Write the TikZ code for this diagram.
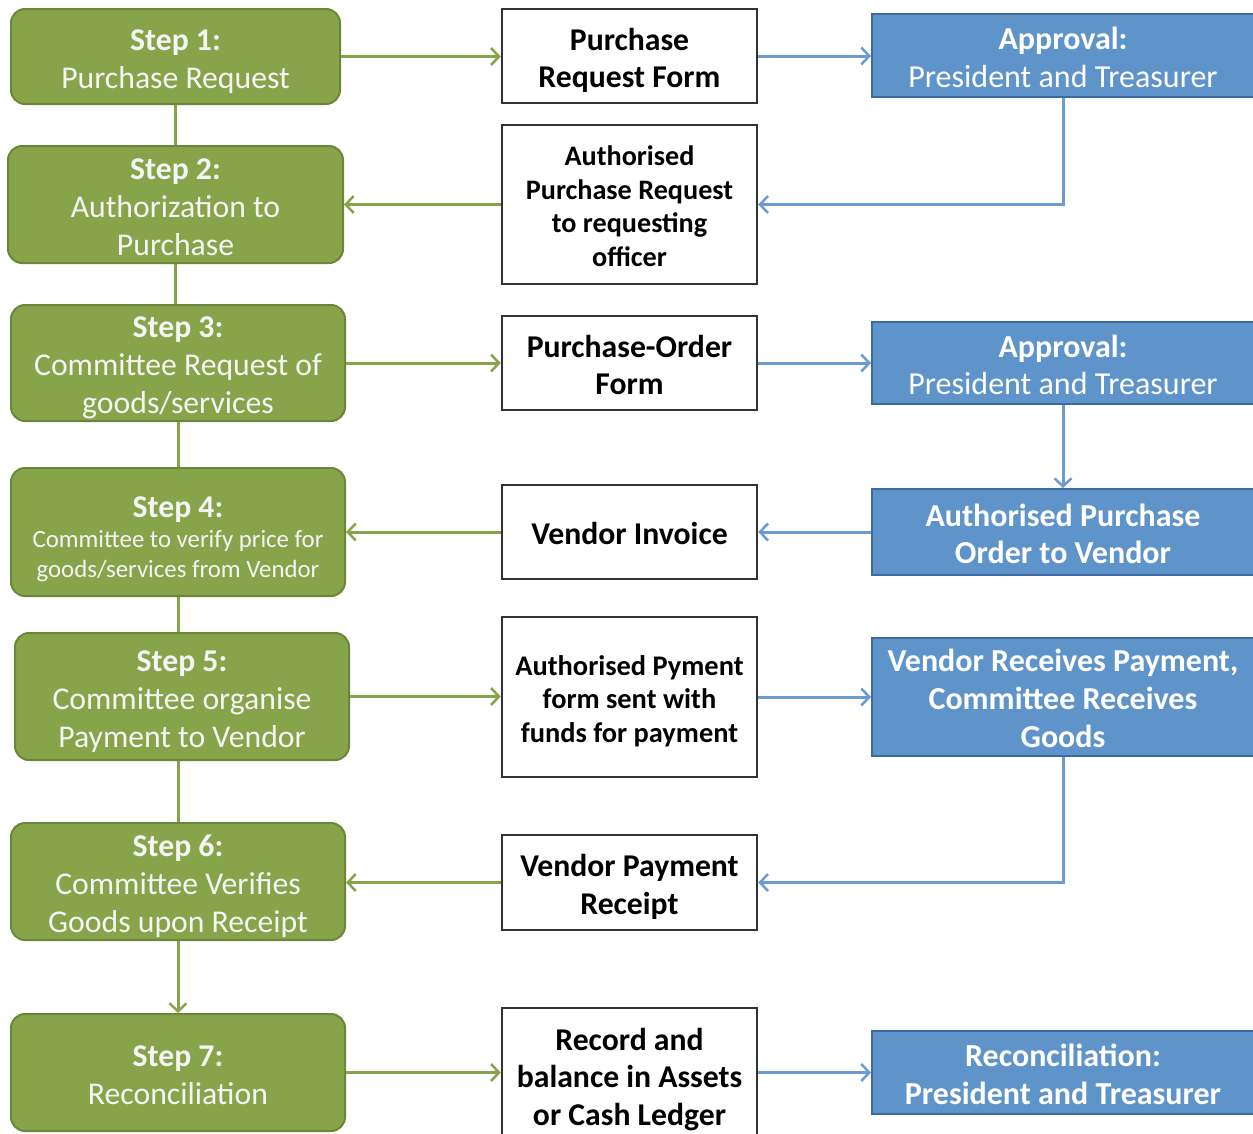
\documentclass[tikz,border=0pt]{standalone}
\usepackage{fontspec}
\setmainfont{Carlito}
\usetikzlibrary{arrows.meta}
\definecolor{gfill}{HTML}{88A44B}
\definecolor{gdraw}{HTML}{6A8638}
\definecolor{bfill}{HTML}{5F94CA}
\definecolor{bdraw}{HTML}{3A6A9F}
\definecolor{bline}{HTML}{6B9BD0}
\definecolor{gline}{HTML}{88A44B}
\definecolor{wdraw}{HTML}{333333}
\newcommand\sT{\rule[-0.17em]{0pt}{1.15em}}
\newcommand\bT{\rule[-0.17em]{0pt}{1.3em}}
\newcommand\bx[1]{\sT#1\sT}
\tikzset{
  common/.style={inner sep=0, align=center},
  gbox/.style={common, draw=gdraw, fill=gfill, line width=2, rounded corners=14, text=white!96!black, font=\fontsize{31.7}{38}\selectfont},
  wbox/.style={common, draw=wdraw, fill=white, line width=2.5, text=black, font=\bfseries\fontsize{31.7}{37.3}\selectfont},
  bbox/.style={common, draw=bdraw, fill=bfill, line width=2, text=white, font=\fontsize{32}{37.5}\selectfont},
  garrow/.style={draw=gline, line width=3, -{Straight Barb[length=8pt,width=17pt,line width=2.5pt]}},
  gline/.style={draw=gline, line width=3},
  barrow/.style={draw=bline, line width=3, -{Straight Barb[length=8pt,width=17pt,line width=2.5pt]}},
}
\begin{document}
\begin{tikzpicture}[x=1pt,y=-1pt]
\useasboundingbox (0,0) rectangle (1253,1133);
\clip (0,0) rectangle (1253,1133);
% green step boxes
\node[gbox, minimum width=329, minimum height=95] (s1) at (175.5,56.5) {\bx{\textbf{Step 1:}\\Purchase Request}};
\node[gbox, minimum width=335, minimum height=117] (s2) at (175.5,204.5) {\bx{\textbf{Step 2:}\\Authorization to\\Purchase}};
\node[gbox, minimum width=334, minimum height=116] (s3) at (178,363) {\bx{\textbf{Step 3:}\\Committee Request of\\goods/services}};
\node[gbox, minimum width=334, minimum height=128, font=\fontsize{24.8}{30}\selectfont] (s4) at (178,532) {{\fontsize{31.7}{30}\selectfont\bfseries\bT Step 4:}\\Committee to verify price for\\goods/services from Vendor\sT};
\node[gbox, minimum width=334, minimum height=127] (s5) at (182,696.5) {\bx{\textbf{Step 5:}\\Committee organise\\Payment to Vendor}};
\node[gbox, minimum width=334, minimum height=117] (s6) at (178,881.5) {\bx{\textbf{Step 6:}\\Committee Verifies\\Goods upon Receipt}};
\node[gbox, minimum width=334, minimum height=117] (s7) at (178,1072.5) {\bx{\textbf{Step 7:}\\Reconciliation}};
% white boxes
\node[wbox, minimum width=255, minimum height=94] (w1) at (629.5,56) {\bx{Purchase\\Request Form}};
\node[wbox, minimum width=255, minimum height=159, font=\bfseries\fontsize{28.2}{33.5}\selectfont] (w2) at (629.5,204.5) {\bx{Authorised\\Purchase Request\\to requesting\\officer}};
\node[wbox, minimum width=255, minimum height=94] (w3) at (629.5,363) {\bx{Purchase-Order\\Form}};
\node[wbox, minimum width=255, minimum height=94] (w4) at (629.5,532) {\bx{Vendor Invoice}};
\node[wbox, minimum width=255, minimum height=160, font=\bfseries\fontsize{28.4}{33.5}\selectfont] (w5) at (629.5,697) {\bx{Authorised Pyment\\form sent with\\funds for payment}};
\node[wbox, minimum width=255, minimum height=95] (w6) at (629.5,882.5) {\bx{Vendor Payment\\Receipt}};
\node[wbox, minimum width=255, minimum height=134] (w7) at (629.5,1075) {\bx{Record and\\balance in Assets\\or Cash Ledger}};
% blue boxes
\node[bbox, minimum width=382, minimum height=83] (b1) at (1063,55.5) {\bx{\textbf{Approval:}\\President and Treasurer}};
\node[bbox, minimum width=382, minimum height=82] (b2) at (1063,363) {\bx{\textbf{Approval:}\\President and Treasurer}};
\node[bbox, minimum width=382, minimum height=86, font=\bfseries\fontsize{32}{37.5}\selectfont] (b3) at (1063,532) {\bx{Authorised Purchase\\Order to Vendor}};
\node[bbox, minimum width=382, minimum height=118, font=\bfseries\fontsize{32}{38}\selectfont] (b4) at (1063,697) {\bx{Vendor Receives Payment,\\Committee Receives\\Goods}};
\node[bbox, minimum width=382, minimum height=83, font=\bfseries\fontsize{32}{37.5}\selectfont] (b5) at (1063,1072.5) {\bx{Reconciliation:\\President and Treasurer}};
% green vertical connectors
\draw[gline] (s1.south) -- (s1.south |- s2.north);
\draw[gline] (s2.south) -- (s2.south |- s3.north);
\draw[gline] (s3.south) -- (s3.south |- s4.north);
\draw[gline] (s4.south) -- (s4.south |- s5.north);
\draw[gline] (s4.south |- s5.south) -- (s4.south |- s6.north);
\draw[garrow] (s6.south) -- (s7.north);
% green horizontal connectors
\draw[garrow] (s1.east) -- (s1.east -| w1.west);
\draw[garrow] (w2.west) -- (w2.west -| s2.east);
\draw[garrow] (s3.east) -- (s3.east -| w3.west);
\draw[garrow] (w4.west) -- (w4.west -| s4.east);
\draw[garrow] (s5.east) -- (s5.east -| w5.west);
\draw[garrow] (w6.west) -- (w6.west -| s6.east);
\draw[garrow] (s7.east) -- (s7.east -| w7.west);
% blue connectors
\draw[barrow] (w1.east) -- (w1.east -| b1.west);
\draw[barrow] (b1.south) |- (w2.east);
\draw[barrow] (w3.east) -- (w3.east -| b2.west);
\draw[barrow] (b2.south) -- (b3.north);
\draw[barrow] (b3.west) -- (b3.west -| w4.east);
\draw[barrow] (w5.east) -- (w5.east -| b4.west);
\draw[barrow] (b4.south) |- (w6.east);
\draw[barrow] (w7.east |- b5.west) -- (b5.west);
\end{tikzpicture}
\end{document}
